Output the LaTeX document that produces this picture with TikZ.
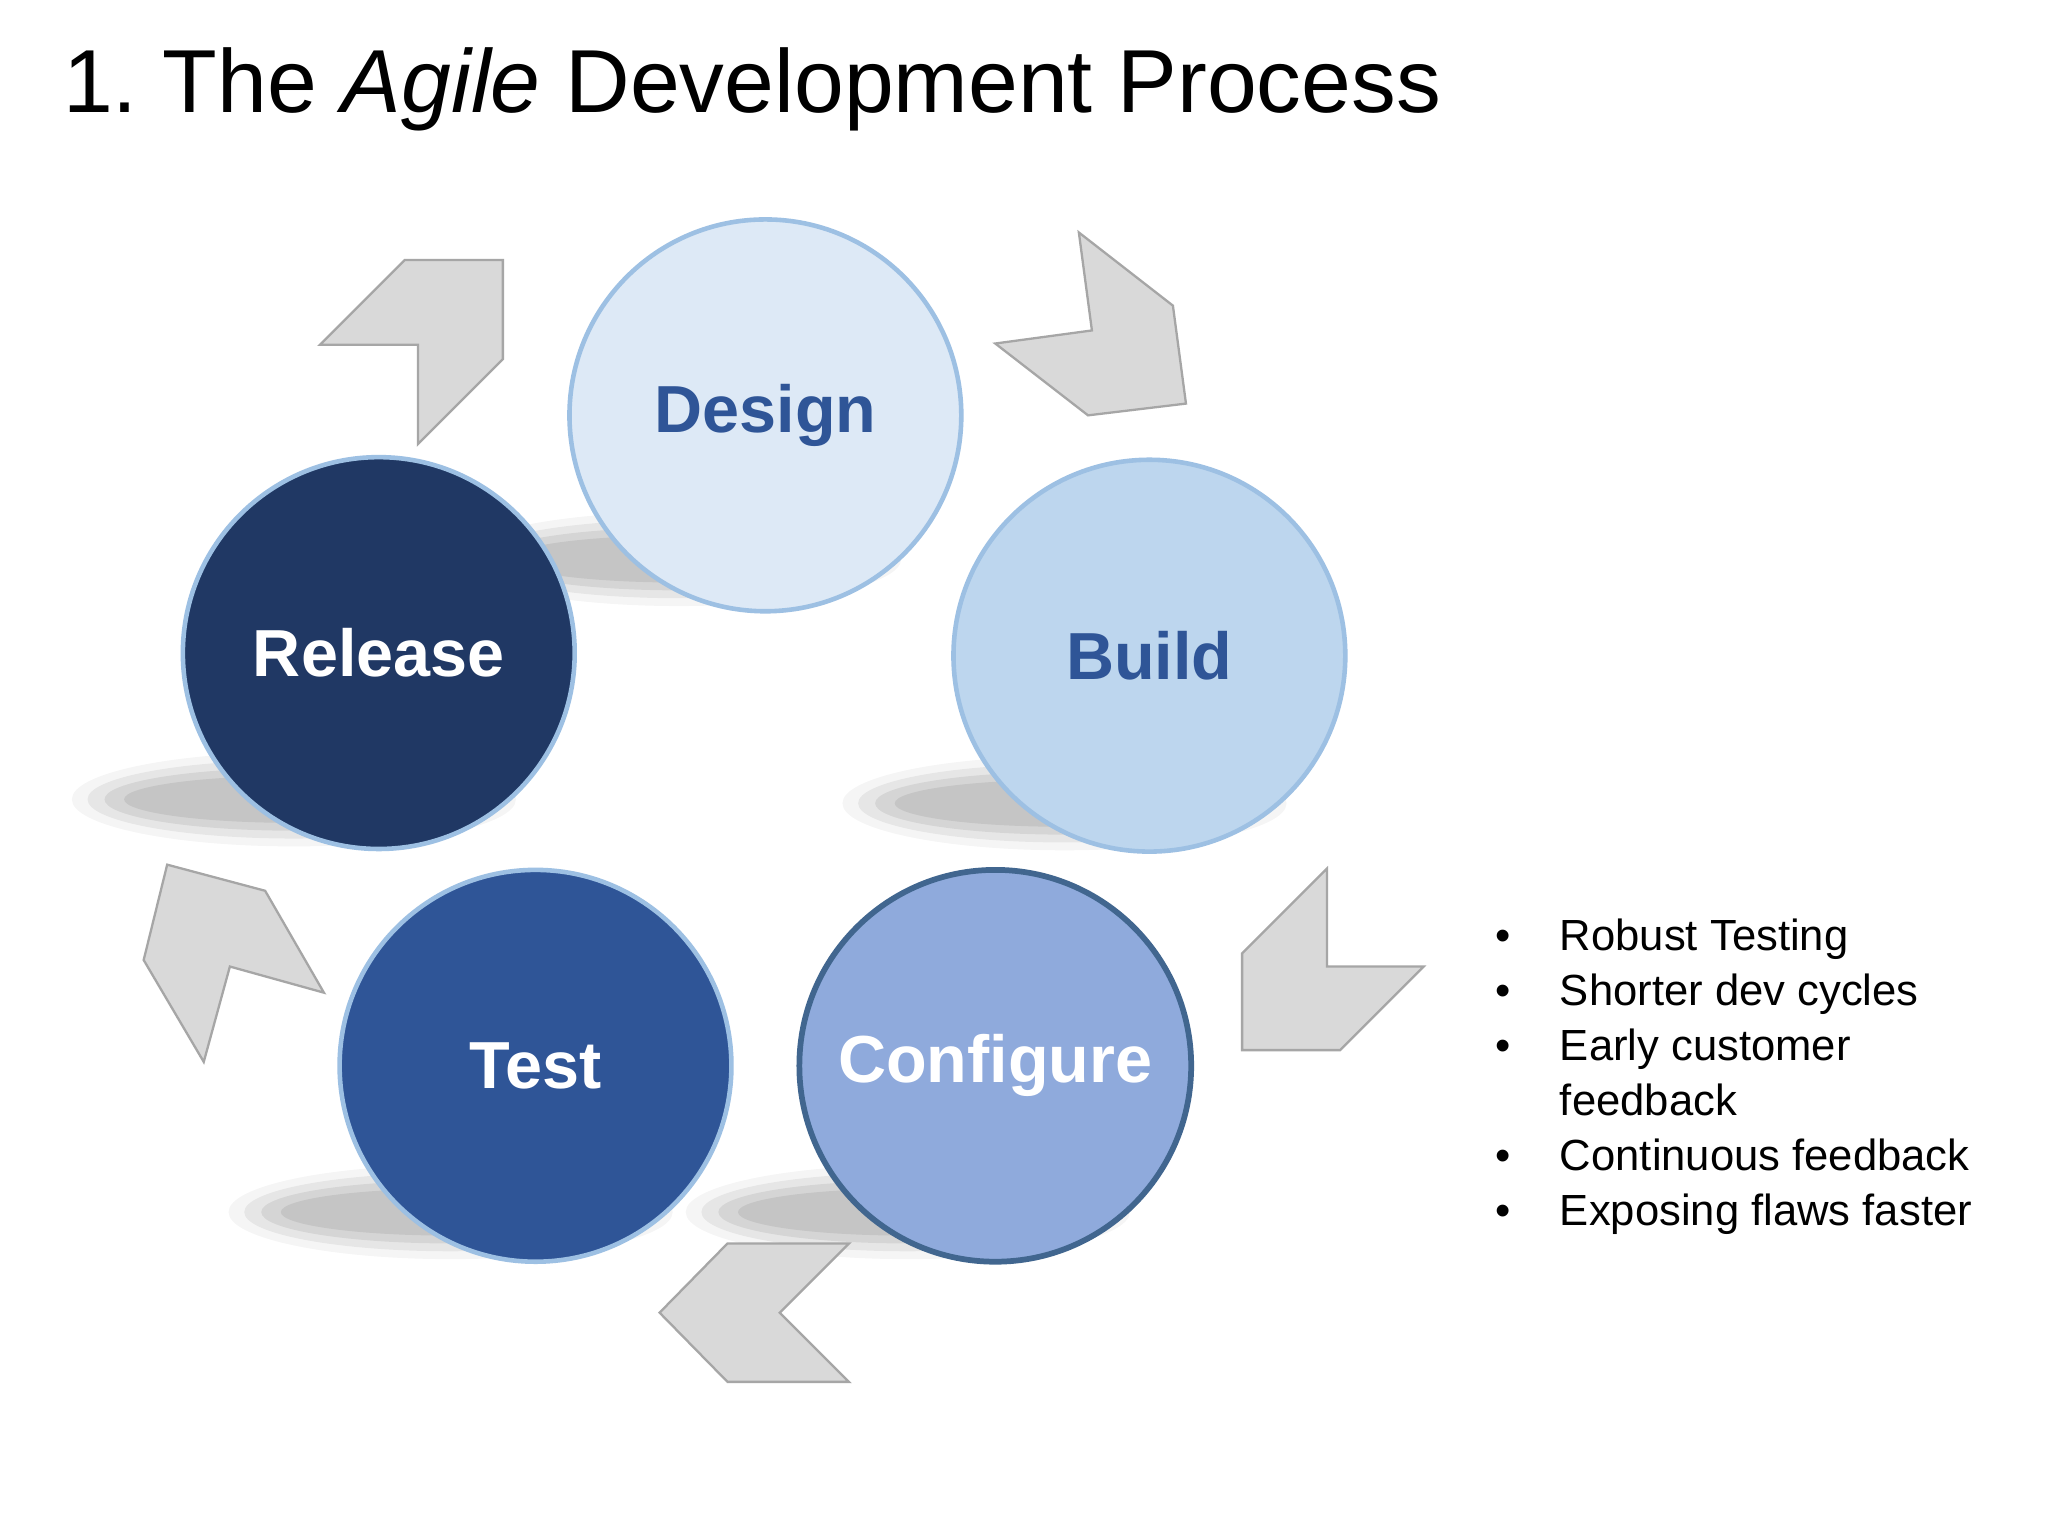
\documentclass[tikz,border=0pt]{standalone}
\usepackage{fontspec}
\setmainfont{Liberation Sans}
\frenchspacing
\definecolor{arrfill}{HTML}{D9D9D9}
\definecolor{arrdraw}{HTML}{A6A6A6}
\definecolor{dblue}{HTML}{2F5597}
\definecolor{cdesign}{HTML}{DDE9F6}
\definecolor{cbuild}{HTML}{BDD6EE}
\definecolor{cconf}{HTML}{8FAADC}
\definecolor{ctest}{HTML}{2F5597}
\definecolor{crel}{HTML}{203864}
\definecolor{blight}{HTML}{9DC0E3}
\definecolor{bconf}{HTML}{41668F}
\tikzset{
 chev/.style={fill=arrfill,draw=arrdraw,line width=1pt},
 circ/.style={circle,minimum size=300*0.02cm,inner sep=0pt,line width=2pt,font=\fontsize{29}{34}\selectfont\bfseries},
 shad/.style={fill=black},
 bul/.style={anchor=base west,font=\fontsize{19}{23}\selectfont,inner sep=0pt}
}
\begin{document}
\begin{tikzpicture}[x=0.02cm,y=-0.02cm]
\useasboundingbox[fill=white] (0,0) rectangle (1568,1176);
\node[anchor=base west,font=\fontsize{39}{44}\selectfont,inner sep=0pt] (title) at (48,86) {1. The \textit{Agile} Development Process};
% shadows
\foreach \x/\y in {225/612,520/428,815/615,345/928,695/928}{
  \fill[shad,opacity=0.04] (\x,\y) ellipse (170 and 36);
  \fill[shad,opacity=0.06] (\x,\y) ellipse (158 and 30);
  \fill[shad,opacity=0.07] (\x,\y) ellipse (145 and 24);
  \fill[shad,opacity=0.07] (\x,\y) ellipse (130 and 18);
}
% chevrons
\draw[chev] (245,264)--(310,199)--(385,199)--(385,275)--(320,340)--(320,264)--cycle;
\draw[chev] (826,178)--(898,234)--(908,309)--(833,318)--(762,263)--(836,253)--cycle;
\draw[chev] (1016,665)--(1016,740)--(1090,740)--(1026,804)--(951,804)--(951,730)--cycle;
\draw[chev] (650,952)--(597,1005)--(650,1058)--(557,1058)--(505,1005)--(557,952)--cycle;
\draw[chev] (128,662)--(203,682)--(248,760)--(176,740)--(156,813)--(110,735)--cycle;
% circles
\node[circ,fill=cdesign,draw=blight,text=dblue] (design) at (586,318) {Design};
\node[circ,fill=cbuild,draw=blight,text=dblue] (build) at (880,502) {Build};
\node[circ,fill=crel,draw=blight,text=white] (release) at (290,500) {Release};
\node[circ,fill=ctest,draw=blight,text=white] (test) at (410,816) {Test};
\node[circ,fill=cconf,draw=bconf,line width=2.5pt,text=white] (conf) at (762,816) {Configure};
% bullets
\foreach \t [count=\i] in {Robust Testing,Shorter dev cycles,Early customer,feedback,Continuous feedback,Exposing flaws faster}{
  \node[bul] (b\i) at (1194,{728+42*(\i-1)}) {\t};
}
\foreach \i in {1,2,3,5,6}{
  \node[bul] (d\i) at (1145,{728+42*(\i-1)}) {•};
}
\end{tikzpicture}
\end{document}
